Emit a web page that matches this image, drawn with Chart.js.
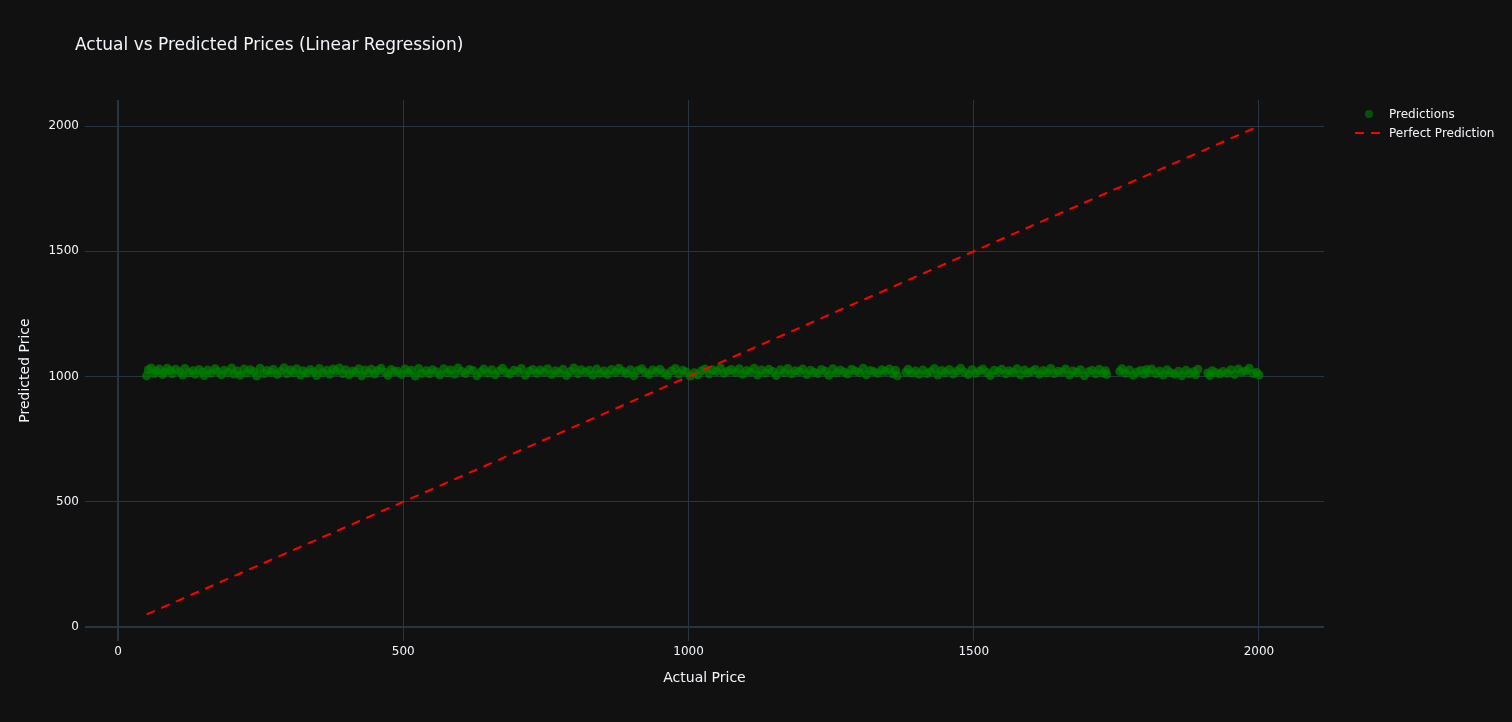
<!DOCTYPE html>
<html>
<head>
<meta charset="utf-8">
<script src="https://cdn.jsdelivr.net/npm/chart.js@4/dist/chart.umd.min.js"></script>
<style>
  html, body { margin: 0; padding: 0; background: #111111; }
  canvas { display: block; }
</style>
</head>
<body>
<canvas id="priceChart" width="1512" height="722"></canvas>
<script>
const actualPrice = [
  50, 53, 58, 64, 67, 72, 78, 81, 86, 92,
  95, 101, 108, 113, 117, 124, 131, 135, 142, 148,
  151, 157, 163, 170, 174, 181, 186, 192, 199, 203,
  209, 214, 221, 226, 232, 238, 243, 249, 256, 261,
  268, 272, 279, 285, 291, 296, 302, 307, 313, 320,
  324, 331, 337, 342, 348, 353, 359, 366, 371, 377,
  382, 388, 394, 399, 405, 411, 416, 422, 427, 433,
  439, 444, 450, 455, 461, 468, 473, 479, 484, 490,
  497, 503, 509, 514, 521, 527, 533, 540, 546, 551,
  558, 564, 571, 577, 583, 590, 596, 603, 609, 616,
  622, 629, 636, 641, 648, 655, 661, 668, 674, 681,
  687, 694, 701, 707, 714, 721, 727, 734, 740, 747,
  753, 760, 767, 773, 780, 786, 793, 799, 806, 812,
  819, 826, 832, 839, 845, 852, 858, 865, 872, 878,
  885, 891, 898, 904, 911, 918, 924, 931, 937, 944,
  950, 957, 963, 970, 977, 983, 990, 996, 1003, 1010,
  1016, 1023, 1029, 1036, 1042, 1049, 1056, 1062, 1069, 1075,
  1082, 1089, 1095, 1102, 1108, 1115, 1121, 1128, 1135, 1141,
  1148, 1154, 1161, 1168, 1174, 1181, 1187, 1194, 1200, 1207,
  1214, 1220, 1227, 1233, 1240, 1246, 1253, 1260, 1266, 1273,
  1279, 1286, 1292, 1299, 1306, 1312, 1319, 1325, 1332, 1339,
  1345, 1352, 1358, 1363, 1366, 1381, 1385, 1391, 1398, 1404,
  1411, 1418, 1424, 1431, 1437, 1444, 1450, 1457, 1464, 1470,
  1477, 1483, 1490, 1497, 1503, 1510, 1516, 1523, 1529, 1536,
  1543, 1549, 1556, 1562, 1569, 1576, 1582, 1589, 1595, 1602,
  1608, 1615, 1622, 1628, 1635, 1641, 1648, 1655, 1661, 1668,
  1674, 1681, 1687, 1694, 1701, 1707, 1714, 1720, 1727, 1731,
  1733, 1756, 1760, 1766, 1773, 1780, 1786, 1793, 1799, 1803,
  1806, 1812, 1819, 1826, 1832, 1839, 1845, 1852, 1859, 1865,
  1872, 1878, 1885, 1889, 1893, 1910, 1914, 1918, 1924, 1931,
  1937, 1944, 1951, 1957, 1964, 1970, 1977, 1983, 1990, 1996, 2000
];

const predictedPrice = [
  1003, 1027, 1034, 1012, 1021, 1030, 1008, 1017, 1033, 1024,
  1011, 1029, 1019, 1006, 1032, 1015, 1023, 1009, 1028, 1018,
  1004, 1026, 1013, 1031, 1020, 1007, 1025, 1016, 1034, 1010,
  1022, 1005, 1030, 1014, 1027, 1019, 1002, 1033, 1012, 1024,
  1017, 1029, 1008, 1021, 1035, 1011, 1026, 1015, 1031, 1006,
  1023, 1013, 1028, 1019, 1004, 1032, 1016, 1025, 1009, 1030,
  1020, 1034, 1012, 1027, 1007, 1022, 1018, 1031, 1003, 1026,
  1014, 1029, 1010, 1024, 1033, 1016, 1005, 1028, 1019, 1021,
  1008, 1030, 1017, 1025, 1002, 1032, 1013, 1023, 1011, 1027,
  1019, 1006, 1031, 1015, 1026, 1009, 1034, 1020, 1012, 1028,
  1024, 1003, 1018, 1030, 1014, 1027, 1007, 1022, 1033, 1016,
  1010, 1025, 1019, 1032, 1005, 1021, 1028, 1013, 1026, 1017,
  1031, 1008, 1023, 1015, 1029, 1004, 1020, 1034, 1011, 1027,
  1018, 1025, 1006, 1030, 1013, 1022, 1009, 1028, 1016, 1033,
  1021, 1012, 1027, 1003, 1024, 1031, 1017, 1008, 1026, 1019,
  1029, 1014, 1005, 1022, 1032, 1010, 1025, 1018, 1002, 1015,
  1007, 1023, 1030, 1011, 1027, 1019, 1034, 1013, 1021, 1028,
  1016, 1031, 1009, 1024, 1018, 1033, 1006, 1026, 1014, 1029,
  1020, 1004, 1027, 1015, 1032, 1011, 1023, 1019, 1030, 1008,
  1025, 1017, 1012, 1028, 1021, 1005, 1031, 1014, 1026, 1018,
  1010, 1029, 1022, 1016, 1033, 1007, 1024, 1019, 1013, 1027,
  1020, 1030, 1011, 1025, 1003, 1017, 1029, 1014, 1022, 1009,
  1026, 1012, 1019, 1032, 1006, 1024, 1015, 1028, 1010, 1021,
  1033, 1018, 1008, 1027, 1013, 1022, 1030, 1016, 1004, 1025,
  1019, 1029, 1011, 1023, 1017, 1031, 1007, 1026, 1014, 1020,
  1028, 1009, 1024, 1015, 1032, 1012, 1021, 1018, 1030, 1006,
  1022, 1016, 1027, 1003, 1019, 1025, 1011, 1029, 1014, 1023,
  1008, 1020, 1031, 1013, 1026, 1005, 1018, 1024, 1010, 1028,
  1017, 1030, 1012, 1022, 1006, 1027, 1015, 1009, 1021, 1003,
  1025, 1011, 1019, 1007, 1029, 1014, 1004, 1023, 1016, 1010,
  1020, 1013, 1027, 1008, 1030, 1018, 1022, 1033, 1012, 1017, 1006
];

// perfect prediction line endpoints (min / max actual)
const perfectX = [50, 2000];
const perfectY = [50, 2000];

const xTicks = [0, 500, 1000, 1500, 2000];
const yTicks = [0, 500, 1000, 1500, 2000];

const textColor = "#f2f5fa";
const gridColor = "#283442";
const fontFamily = '"DejaVu Sans", "Open Sans", sans-serif';
const pointColor = "rgba(0,128,0,0.7)";

const overlay = {
  id: "overlay",
  beforeDraw(chart) {
    const c = chart.ctx;
    c.save();
    c.fillStyle = "#111111";
    c.fillRect(0, 0, chart.width, chart.height);
    c.restore();
  },
  afterDraw(chart) {
    const c = chart.ctx;
    c.save();
    c.fillStyle = textColor;
    c.textBaseline = "middle";
    c.font = "17px " + fontFamily;
    c.fillText("Actual vs Predicted Prices (Linear Regression)", 75, 46);

    // legend
    c.font = "12px " + fontFamily;
    c.beginPath();
    c.arc(1369, 114, 4, 0, Math.PI * 2);
    c.fillStyle = "rgba(0,128,0,0.6)";
    c.fill();
    c.fillStyle = textColor;
    c.fillText("Predictions", 1389, 115);

    c.beginPath();
    c.setLineDash([9, 7]);
    c.strokeStyle = "#ff0000";
    c.lineWidth = 2;
    c.moveTo(1355, 133);
    c.lineTo(1384, 133);
    c.stroke();
    c.setLineDash([]);
    c.fillText("Perfect Prediction", 1389, 134);
    c.restore();
  },
};

const tickFont = { family: fontFamily, size: 12 };
const titleFont = { family: fontFamily, size: 14 };

new Chart(document.getElementById("priceChart").getContext("2d"), {
  type: "scatter",
  data: {
    datasets: [
      {
        label: "Predictions",
        data: actualPrice.map((x, i) => ({ x: x, y: predictedPrice[i] })),
        backgroundColor: pointColor,
        borderWidth: 0,
        pointRadius: 4.5,
        pointHoverRadius: 4.5,
        order: 2,
      },
      {
        label: "Perfect Prediction",
        type: "line",
        data: perfectX.map((x, i) => ({ x: x, y: perfectY[i] })),
        borderColor: "#ff0000",
        borderWidth: 2,
        borderDash: [9, 7],
        pointRadius: 0,
        fill: false,
        order: 1,
      },
    ],
  },
  options: {
    responsive: false,
    animation: false,
    layout: { padding: { left: 13, right: 188, top: 100, bottom: 21 } },
    plugins: {
      legend: { display: false },
      title: { display: false },
      tooltip: { enabled: false },
    },
    scales: {
      x: {
        type: "linear",
        min: -58,
        max: 2114,
        afterFit: (s) => { s.height = 60; },
        afterBuildTicks: (s) => { s.ticks = xTicks.map((v) => ({ value: v })); },
        border: { display: false },
        grid: {
          color: gridColor,
          drawTicks: false,
          lineWidth: (ctx) => (ctx.tick && ctx.tick.value === 0 ? 2 : 1),
        },
        ticks: { color: textColor, padding: 4, font: tickFont, callback: (v) => String(v) },
        title: {
          display: true,
          text: "Actual Price",
          color: textColor,
          font: titleFont,
          padding: { top: 4, bottom: 14 },
        },
      },
      y: {
        type: "linear",
        min: -56,
        max: 2104,
        afterFit: (s) => { s.width = 72; },
        afterBuildTicks: (s) => { s.ticks = yTicks.map((v) => ({ value: v })); },
        border: { display: false },
        grid: {
          color: gridColor,
          drawTicks: false,
          lineWidth: (ctx) => (ctx.tick && ctx.tick.value === 0 ? 2 : 1),
        },
        ticks: { color: textColor, padding: 6, font: tickFont, callback: (v) => String(v) },
        title: {
          display: true,
          text: "Predicted Price",
          color: textColor,
          font: titleFont,
          padding: { top: 4, bottom: 4 },
        },
      },
    },
  },
  plugins: [overlay],
});
</script>
</body>
</html>
